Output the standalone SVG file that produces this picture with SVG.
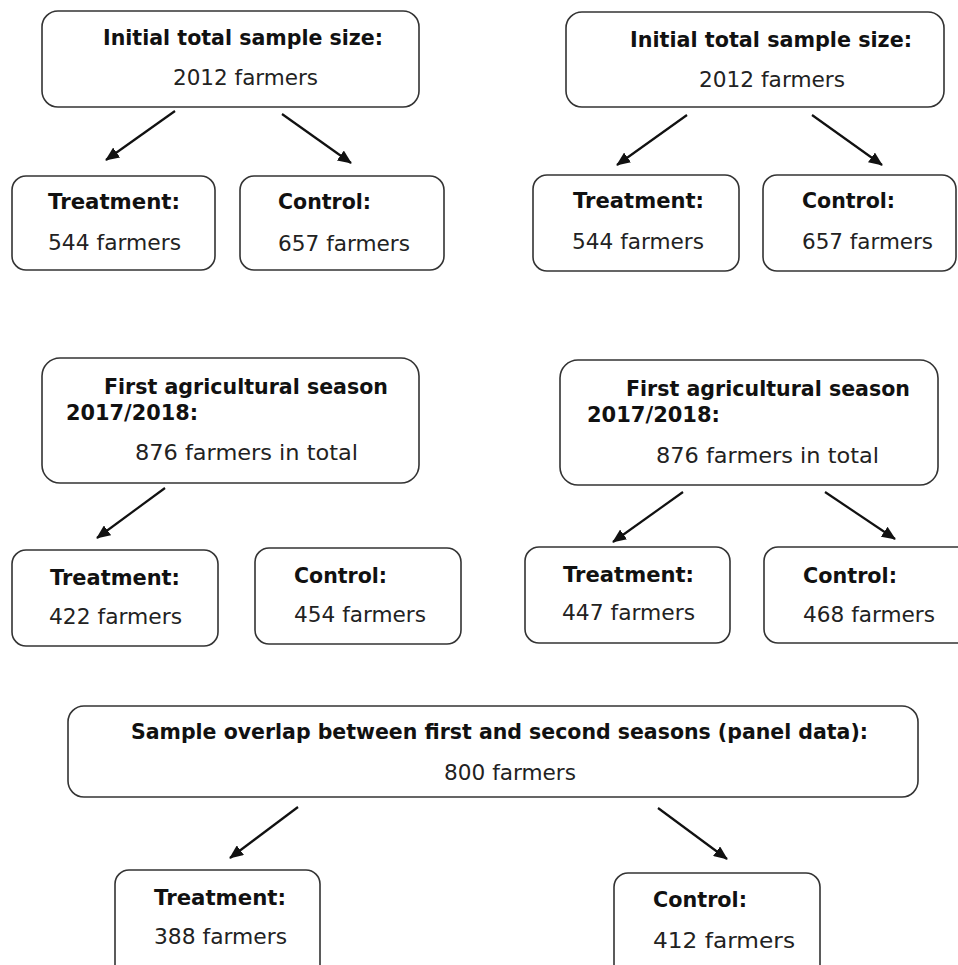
<svg xmlns="http://www.w3.org/2000/svg" width="958" height="965" viewBox="0 0 958 965">
<style>
  .box { fill: #ffffff; stroke: #333333; stroke-width: 1.6; }
  .b { font-family: "DejaVu Sans", "Liberation Sans", sans-serif; font-size: 22px; font-weight: bold; fill: #111111; }
  .r { font-family: "DejaVu Sans", "Liberation Sans", sans-serif; font-size: 22px; fill: #222222; }
  .arr { stroke: #111111; stroke-width: 2.2; fill: none; marker-end: url(#ah); }
</style>
<defs>
  <marker id="ah" markerUnits="userSpaceOnUse" markerWidth="14" markerHeight="12" refX="13" refY="6" orient="auto">
    <path d="M0,0 L14,6 L0,12 z" fill="#111111"/>
  </marker>
</defs>
<rect width="958" height="965" fill="#ffffff"/>

<g id="tl-main">
  <rect class="box" x="42" y="11" width="377" height="96" rx="16"/>
  <text class="b" x="103" y="45" textLength="280" lengthAdjust="spacingAndGlyphs">Initial total sample size:</text>
  <text class="r" x="173" y="85" textLength="145" lengthAdjust="spacingAndGlyphs">2012 farmers</text>
</g>
<g id="tl-treatment">
  <rect class="box" x="12" y="176" width="203" height="94" rx="14"/>
  <text class="b" x="48" y="209" textLength="132" lengthAdjust="spacingAndGlyphs">Treatment:</text>
  <text class="r" x="48" y="250" textLength="133" lengthAdjust="spacingAndGlyphs">544 farmers</text>
</g>
<g id="tl-control">
  <rect class="box" x="240" y="176" width="204" height="94" rx="14"/>
  <text class="b" x="278" y="209" textLength="93" lengthAdjust="spacingAndGlyphs">Control:</text>
  <text class="r" x="278" y="251" textLength="132" lengthAdjust="spacingAndGlyphs">657 farmers</text>
</g>

<g id="tr-main">
  <rect class="box" x="566" y="12" width="378" height="95" rx="16"/>
  <text class="b" x="630" y="47" textLength="282" lengthAdjust="spacingAndGlyphs">Initial total sample size:</text>
  <text class="r" x="699" y="87" textLength="146" lengthAdjust="spacingAndGlyphs">2012 farmers</text>
</g>
<g id="tr-treatment">
  <rect class="box" x="533" y="175" width="206" height="96" rx="14"/>
  <text class="b" x="573" y="208" textLength="131" lengthAdjust="spacingAndGlyphs">Treatment:</text>
  <text class="r" x="572" y="249" textLength="132" lengthAdjust="spacingAndGlyphs">544 farmers</text>
</g>
<g id="tr-control">
  <rect class="box" x="763" y="175" width="193" height="96" rx="14"/>
  <text class="b" x="802" y="208" textLength="93" lengthAdjust="spacingAndGlyphs">Control:</text>
  <text class="r" x="802" y="249" textLength="131" lengthAdjust="spacingAndGlyphs">657 farmers</text>
</g>

<g id="ml-main">
  <rect class="box" x="42" y="358" width="377" height="125" rx="18"/>
  <text class="b" x="104" y="394" textLength="284" lengthAdjust="spacingAndGlyphs">First agricultural season</text>
  <text class="b" x="66" y="420" textLength="132" lengthAdjust="spacingAndGlyphs">2017/2018:</text>
  <text class="r" x="135" y="460" textLength="223" lengthAdjust="spacingAndGlyphs">876 farmers in total</text>
</g>
<g id="ml-treatment">
  <rect class="box" x="12" y="550" width="206" height="96" rx="14"/>
  <text class="b" x="50" y="585" textLength="130" lengthAdjust="spacingAndGlyphs">Treatment:</text>
  <text class="r" x="49" y="624" textLength="133" lengthAdjust="spacingAndGlyphs">422 farmers</text>
</g>
<g id="ml-control">
  <rect class="box" x="255" y="548" width="206" height="96" rx="14"/>
  <text class="b" x="294" y="583" textLength="93" lengthAdjust="spacingAndGlyphs">Control:</text>
  <text class="r" x="294" y="622" textLength="132" lengthAdjust="spacingAndGlyphs">454 farmers</text>
</g>

<g id="mr-main">
  <rect class="box" x="560" y="360" width="378" height="125" rx="18"/>
  <text class="b" x="626" y="396" textLength="284" lengthAdjust="spacingAndGlyphs">First agricultural season</text>
  <text class="b" x="587" y="422" textLength="133" lengthAdjust="spacingAndGlyphs">2017/2018:</text>
  <text class="r" x="656" y="463" textLength="223" lengthAdjust="spacingAndGlyphs">876 farmers in total</text>
</g>
<g id="mr-treatment">
  <rect class="box" x="525" y="547" width="205" height="96" rx="14"/>
  <text class="b" x="563" y="582" textLength="131" lengthAdjust="spacingAndGlyphs">Treatment:</text>
  <text class="r" x="562" y="620" textLength="133" lengthAdjust="spacingAndGlyphs">447 farmers</text>
</g>
<g id="mr-control">
  <rect class="box" x="764" y="547" width="210" height="96" rx="14"/>
  <text class="b" x="803" y="583" textLength="94" lengthAdjust="spacingAndGlyphs">Control:</text>
  <text class="r" x="803" y="622" textLength="132" lengthAdjust="spacingAndGlyphs">468 farmers</text>
</g>

<g id="b-main">
  <rect class="box" x="68" y="706" width="850" height="91" rx="16"/>
  <text class="b" x="131" y="739" textLength="737" lengthAdjust="spacingAndGlyphs">Sample overlap between first and second seasons (panel data):</text>
  <text class="r" x="444" y="780" textLength="132" lengthAdjust="spacingAndGlyphs">800 farmers</text>
</g>
<g id="b-treatment">
  <rect class="box" x="115" y="870" width="205" height="120" rx="14"/>
  <text class="b" x="154" y="905" textLength="132" lengthAdjust="spacingAndGlyphs">Treatment:</text>
  <text class="r" x="154" y="944" textLength="133" lengthAdjust="spacingAndGlyphs">388 farmers</text>
</g>
<g id="b-control">
  <rect class="box" x="614" y="873" width="206" height="120" rx="14"/>
  <text class="b" x="653" y="907" textLength="94" lengthAdjust="spacingAndGlyphs">Control:</text>
  <text class="r" x="653" y="948" textLength="142" lengthAdjust="spacingAndGlyphs">412 farmers</text>
</g>

<g id="connectors">
  <line class="arr" x1="175" y1="111" x2="106" y2="160"/>
  <line class="arr" x1="282" y1="114" x2="351" y2="163"/>
  <line class="arr" x1="687" y1="115" x2="617" y2="165"/>
  <line class="arr" x1="812" y1="115" x2="882" y2="165"/>
  <line class="arr" x1="165" y1="488" x2="97" y2="538"/>
  <line class="arr" x1="683" y1="492" x2="613" y2="542"/>
  <line class="arr" x1="825" y1="492" x2="895" y2="539"/>
  <line class="arr" x1="298" y1="807" x2="230" y2="858"/>
  <line class="arr" x1="658" y1="808" x2="727" y2="859"/>
</g>
</svg>
